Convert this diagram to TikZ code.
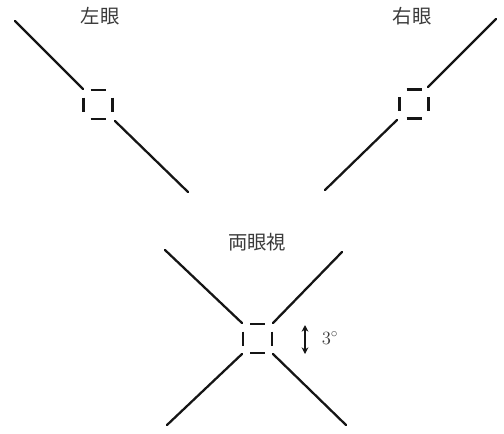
\documentclass[tikz,border=0pt]{standalone}
\usepackage{fontspec}
\newfontfamily\cjk{Noto Sans CJK JP}
\usetikzlibrary{arrows.meta,calc}
\definecolor{ink}{HTML}{151515}
\definecolor{txt}{HTML}{3A3A3A}
\tikzset{
  sightline/.style={draw=ink,line width=1.7pt,line cap=round},
  boxdash/.style={draw=ink,line width=2.1pt},
  label/.style={text=txt,font=\cjk\fontsize{14.5}{16}\selectfont,inner sep=0pt}
}
\newcommand{\dashsquare}[3]{%
  \coordinate (#3c) at (#1,#2);
  \draw[boxdash] ($(#3c)+(-7.5,-14.5)$) -- ($(#3c)+(7.5,-14.5)$);
  \draw[boxdash] ($(#3c)+(-7.5,14.5)$) -- ($(#3c)+(7.5,14.5)$);
  \draw[boxdash] ($(#3c)+(-14.5,-7)$) -- ($(#3c)+(-14.5,7)$);
  \draw[boxdash] ($(#3c)+(14.5,-7)$) -- ($(#3c)+(14.5,7)$);
}
\begin{document}
\begin{tikzpicture}[x=0.75pt,y=-0.75pt]
\useasboundingbox (0,0) rectangle (504,433);
% labels
\node[label] (L) at (100,16) {左眼};
\node[label] (R) at (412,16) {右眼};
\node[label] (B) at (257,242) {両眼視};
% left eye
\dashsquare{98}{104.5}{l}
\coordinate (l1) at (15,21);
\coordinate (l2) at (83,89);
\coordinate (l3) at (115,121);
\coordinate (l4) at (188,192);
\draw[sightline] (l1) -- (l2);
\draw[sightline] (l3) -- (l4);
% right eye
\dashsquare{414}{104}{r}
\coordinate (r1) at (496,19);
\coordinate (r2) at (428,87);
\coordinate (r3) at (397,120);
\coordinate (r4) at (325,190);
\draw[sightline] (r1) -- (r2);
\draw[sightline] (r3) -- (r4);
% binocular
\dashsquare{257.5}{338.5}{b}
\coordinate (b1) at (165,250);
\coordinate (b2) at (242,323);
\coordinate (b3) at (342,252);
\coordinate (b4) at (273,323);
\coordinate (b5) at (242,354);
\coordinate (b6) at (167,425);
\coordinate (b7) at (273,354);
\coordinate (b8) at (346,425);
\draw[sightline] (b1) -- (b2);
\draw[sightline] (b3) -- (b4);
\draw[sightline] (b5) -- (b6);
\draw[sightline] (b7) -- (b8);
% arrow and angle
\coordinate (a1) at (305,325);
\coordinate (a2) at (305,354);
\draw[draw=ink,line width=1.3pt,{Stealth[length=5pt,width=5pt]}-{Stealth[length=5pt,width=5pt]}] (a1) -- (a2);
\node[text=txt,inner sep=0pt,font=\fontsize{14}{16}\selectfont] (deg) at (330,338) {3$^\circ$};
\end{tikzpicture}
\end{document}
